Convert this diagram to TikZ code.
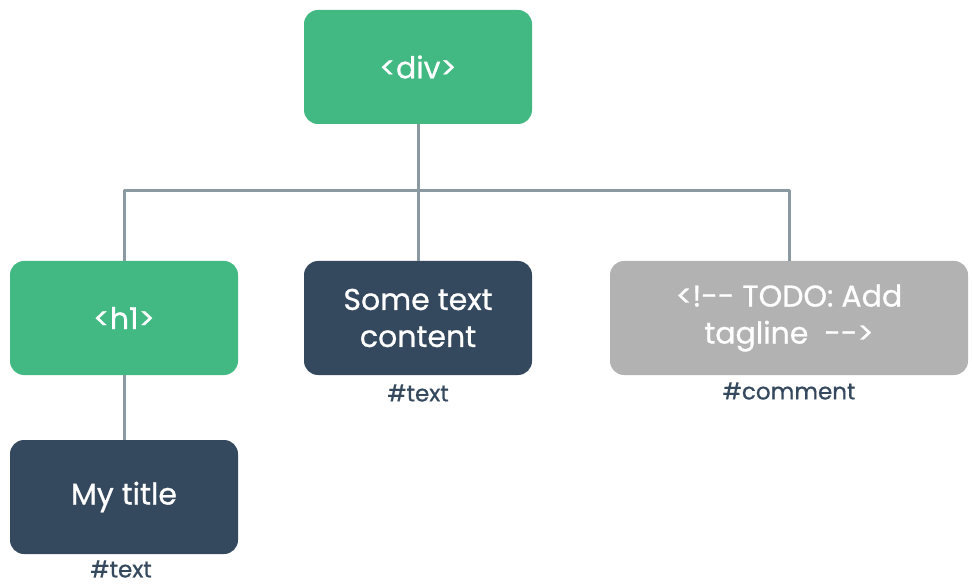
\documentclass[tikz,border=0pt]{standalone}
\usepackage{fontspec}
\setmainfont{Poppins}[FakeBold=0.8]
\usetikzlibrary{positioning}
\definecolor{vuegreen}{HTML}{42B883}
\definecolor{vuedark}{HTML}{35495E}
\definecolor{commentgray}{HTML}{B2B2B2}
\definecolor{wiregray}{HTML}{8A9AA0}

\begin{document}
\begin{tikzpicture}[x=1pt, y=-1pt, line join=round,
    domnode/.style={minimum width=228pt, minimum height=114pt, rounded corners=14pt,
        text=white, font=\fontsize{30}{37}\selectfont, align=center, inner sep=0pt},
    elem/.style={domnode, fill=vuegreen},
    txt/.style={domnode, fill=vuedark},
    cmt/.style={domnode, fill=commentgray, minimum width=358pt},
    kind/.style={text=vuedark, font=\fontsize{23}{26}\selectfont, inner sep=0pt},
    wire/.style={draw=wiregray, line width=3pt}]
    \useasboundingbox (0,0) rectangle (972,585);

    % element nodes
    \node[elem] (div) at (418,67) {<div>};
    \node[elem] (hone) at (124,318) {<h1>};

    % text and comment nodes
    \node[txt] (sometext) at (418,318) {Some text\\content};
    \node[cmt] (comment) at (789,318) {<!-\kern0pt- TODO: Add\\tagline\ \ -\kern0pt->};
    \node[txt] (mytitle) at (124,497) {My title};

    % node type labels
    \node[kind] (sometextkind) at (418,393) {\#text};
    \node[kind] (commentkind) at (789,391) {\#comment};
    \node[kind] (mytitlekind) at (121,569) {\#text};

    % tree wires
    \coordinate (bus) at (418,191);
    \draw[wire] (div.south) -- (bus);
    \draw[wire] (hone.north) |- (bus) -| (comment.north);
    \draw[wire] (bus) -- (sometext.north);
    \draw[wire] (hone.south) -- (mytitle.north);
\end{tikzpicture}
\end{document}
